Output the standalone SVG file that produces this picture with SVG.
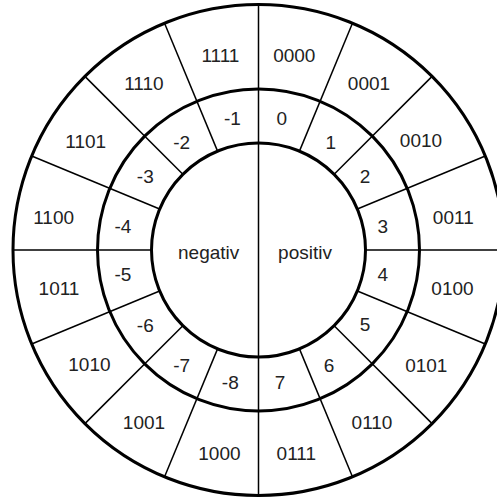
<svg xmlns="http://www.w3.org/2000/svg" width="497" height="497" viewBox="0 0 497 497">
<style>
.ring{fill:none;stroke:#000;stroke-width:3}
.sp{stroke:#000;stroke-width:1.5;fill:none}
text{font-family:"Liberation Sans",Arial,Helvetica,sans-serif;font-size:19px;fill:#222;text-anchor:middle}
</style>
<rect x="0" y="0" width="497" height="497" fill="#fff"/>
<g id="rings">
<circle class="ring" cx="258.5" cy="250" r="245.5"/>
<circle class="ring" cx="258.5" cy="250" r="161"/>
<circle class="ring" cx="258.5" cy="250" r="107"/>
</g>
<g id="spokes">
<line class="sp" x1="258.5" y1="4.5" x2="258.5" y2="495.5"/>
<line class="sp" x1="299.45" y1="151.14" x2="352.45" y2="23.19"/>
<line class="sp" x1="334.16" y1="174.34" x2="432.10" y2="76.40"/>
<line class="sp" x1="357.36" y1="209.05" x2="485.31" y2="156.05"/>
<line class="sp" x1="365.5" y1="250" x2="504" y2="250"/>
<line class="sp" x1="357.36" y1="290.95" x2="485.31" y2="343.95"/>
<line class="sp" x1="334.16" y1="325.66" x2="432.10" y2="423.60"/>
<line class="sp" x1="299.45" y1="348.86" x2="352.45" y2="476.81"/>
<line class="sp" x1="217.55" y1="348.86" x2="164.55" y2="476.81"/>
<line class="sp" x1="182.84" y1="325.66" x2="84.90" y2="423.60"/>
<line class="sp" x1="159.64" y1="290.95" x2="31.69" y2="343.95"/>
<line class="sp" x1="151.5" y1="250" x2="13" y2="250"/>
<line class="sp" x1="159.64" y1="209.05" x2="31.69" y2="156.05"/>
<line class="sp" x1="182.84" y1="174.34" x2="84.90" y2="76.40"/>
<line class="sp" x1="217.55" y1="151.14" x2="164.55" y2="23.19"/>
</g>
<g id="center">
<text x="208.7" y="259.3">negativ</text>
<text x="305" y="259.3">positiv</text>
</g>
<g id="outer-labels">
<g id="b0000"><text x="294.3" y="62.2">0000</text></g>
<g id="b0001"><text x="369" y="89.7">0001</text></g>
<g id="b0010"><text x="421" y="147.2">0010</text></g>
<g id="b0011"><text x="453.3" y="223.7">0011</text></g>
<g id="b0100"><text x="452.5" y="295.2">0100</text></g>
<g id="b0101"><text x="426.3" y="371.5">0101</text></g>
<g id="b0110"><text x="372" y="429.2">0110</text></g>
<g id="b0111"><text x="296.3" y="460.4">0111</text></g>
<g id="b1000"><text x="219.4" y="460.4">1000</text></g>
<g id="b1001"><text x="144" y="428.7">1001</text></g>
<g id="b1010"><text x="89.4" y="370.7">1010</text></g>
<g id="b1011"><text x="59" y="295.2">1011</text></g>
<g id="b1100"><text x="53.6" y="223.7">1100</text></g>
<g id="b1101"><text x="85.7" y="147.5">1101</text></g>
<g id="b1110"><text x="143.9" y="89.7">1110</text></g>
<g id="b1111"><text x="220.4" y="62.2">1111</text></g>
</g>
<g id="middle-labels">
<g id="n0"><text x="281.7" y="124.5">0</text></g>
<g id="n1"><text x="330.7" y="148.5">1</text></g>
<g id="n2"><text x="365" y="183.4">2</text></g>
<g id="n3"><text x="382.7" y="232.9">3</text></g>
<g id="n4"><text x="382.7" y="281.2">4</text></g>
<g id="n5"><text x="365" y="331.4">5</text></g>
<g id="n6"><text x="329" y="371.7">6</text></g>
<g id="n7"><text x="280" y="389.4">7</text></g>
<g id="nm1"><text x="232.4" y="124.5">-1</text></g>
<g id="nm2"><text x="181.7" y="148.5">-2</text></g>
<g id="nm3"><text x="145.3" y="183.4">-3</text></g>
<g id="nm4"><text x="123" y="232.9">-4</text></g>
<g id="nm5"><text x="123" y="281.2">-5</text></g>
<g id="nm6"><text x="145.3" y="331.7">-6</text></g>
<g id="nm7"><text x="181.7" y="371.7">-7</text></g>
<g id="nm8"><text x="230.3" y="389.4">-8</text></g>
</g>
</svg>
